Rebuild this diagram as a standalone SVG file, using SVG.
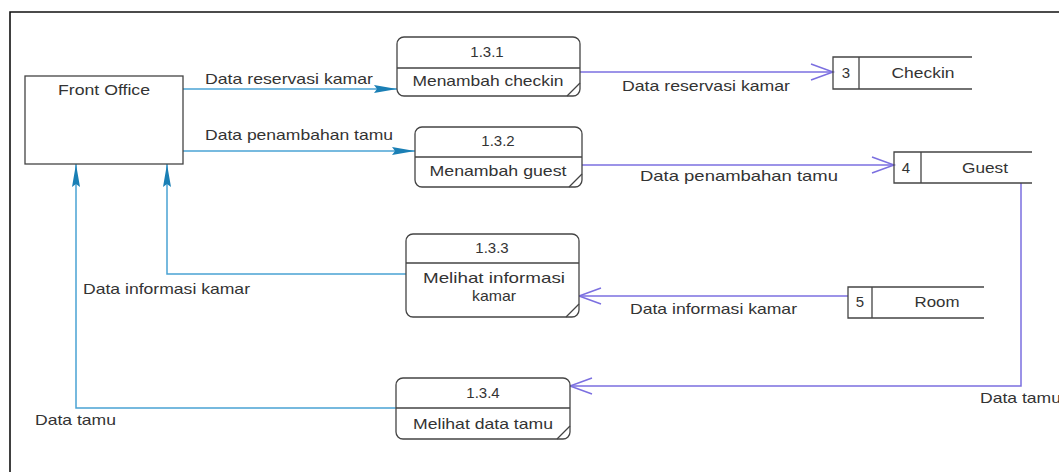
<svg xmlns="http://www.w3.org/2000/svg" width="1059" height="472" viewBox="0 0 1059 472">
<style>
text{font-family:"Liberation Sans",Arial,sans-serif;font-size:15px;fill:#333}
.c{text-anchor:middle}
.box{fill:#fff;stroke:#444;stroke-width:1.3}
.ln{fill:none;stroke:#444;stroke-width:1.3}
.tl{fill:none;stroke:#4aa3d4;stroke-width:1.5}
.pl{fill:none;stroke:#7b6fe0;stroke-width:1.5}
</style>
<defs>
<marker id="fa" markerUnits="userSpaceOnUse" markerWidth="26" markerHeight="14" refX="23" refY="6" orient="auto">
<path d="M0,2 L23,6 L0,10 L3,6 Z" fill="#1a7fb5"/>
</marker>
<marker id="oa" markerUnits="userSpaceOnUse" markerWidth="26" markerHeight="20" refX="23" refY="9" orient="auto">
<path d="M1,1 L23,9 L1,17" fill="none" stroke="#7b6fe0" stroke-width="1.5"/>
</marker>
</defs>
<rect width="1059" height="472" fill="#fff"/>
<path d="M10,472 V12 H1059" fill="none" stroke="#111" stroke-width="1.6"/>

<g id="connectors">
<path class="tl" d="M183,89 H397" marker-end="url(#fa)"/>
<path class="tl" d="M183,151 H415" marker-end="url(#fa)"/>
<path class="tl" d="M406,274 H167 V164" marker-end="url(#fa)"/>
<path class="tl" d="M396,408 H76 V164" marker-end="url(#fa)"/>
<path class="pl" d="M580,72 H833" marker-end="url(#oa)"/>
<path class="pl" d="M582,165 H894" marker-end="url(#oa)"/>
<path class="pl" d="M848,296 H579" marker-end="url(#oa)"/>
<path class="pl" d="M1021,183 V386 H570" marker-end="url(#oa)"/>
<text x="205" y="84" textLength="168" lengthAdjust="spacingAndGlyphs">Data reservasi kamar</text>
<text x="205" y="140" textLength="188" lengthAdjust="spacingAndGlyphs">Data penambahan tamu</text>
<text x="622" y="91" textLength="168" lengthAdjust="spacingAndGlyphs">Data reservasi kamar</text>
<text x="640" y="181" textLength="198" lengthAdjust="spacingAndGlyphs">Data penambahan tamu</text>
<text x="83" y="294" textLength="167" lengthAdjust="spacingAndGlyphs">Data informasi kamar</text>
<text x="630" y="314" textLength="167" lengthAdjust="spacingAndGlyphs">Data informasi kamar</text>
<text x="35" y="425" textLength="81" lengthAdjust="spacingAndGlyphs">Data tamu</text>
<text x="980" y="403" textLength="81" lengthAdjust="spacingAndGlyphs">Data tamu</text>
</g>

<g id="front-office">
<rect class="box" x="25" y="76" width="158" height="88"/>
<text class="c" x="104" y="95" textLength="92" lengthAdjust="spacingAndGlyphs">Front Office</text>
</g>

<g id="p131">
<rect class="box" x="397" y="37" width="183" height="59" rx="7"/>
<path class="ln" d="M397,68 H580 M567,96 L580,83"/>
<text class="c" x="487" y="57">1.3.1</text>
<text class="c" x="488" y="86" textLength="151" lengthAdjust="spacingAndGlyphs">Menambah checkin</text>
</g>

<g id="p132">
<rect class="box" x="415" y="127" width="167" height="60" rx="7"/>
<path class="ln" d="M415,157 H582 M569,187 L582,174"/>
<text class="c" x="498" y="146">1.3.2</text>
<text class="c" x="498" y="176" textLength="137" lengthAdjust="spacingAndGlyphs">Menambah guest</text>
</g>

<g id="p133">
<rect class="box" x="406" y="234" width="173" height="83" rx="7"/>
<path class="ln" d="M406,263 H579 M566,317 L579,304"/>
<text class="c" x="492" y="253">1.3.3</text>
<text class="c" x="494" y="283" textLength="142" lengthAdjust="spacingAndGlyphs">Melihat informasi</text>
<text class="c" x="494" y="301" textLength="44" lengthAdjust="spacingAndGlyphs">kamar</text>
</g>

<g id="p134">
<rect class="box" x="396" y="378" width="174" height="61" rx="7"/>
<path class="ln" d="M396,408 H570 M557,439 L570,426"/>
<text class="c" x="483" y="398">1.3.4</text>
<text class="c" x="483" y="429" textLength="140" lengthAdjust="spacingAndGlyphs">Melihat data tamu</text>
</g>

<g id="store3">
<path class="ln" d="M972,57 H833 V89 H972 M859,57 V89"/>
<text class="c" x="846" y="78">3</text>
<text class="c" x="923" y="78" textLength="63" lengthAdjust="spacingAndGlyphs">Checkin</text>
</g>

<g id="store4">
<path class="ln" d="M1032,152 H894 V183 H1032 M921,152 V183"/>
<text class="c" x="906" y="173">4</text>
<text class="c" x="985" y="173" textLength="46" lengthAdjust="spacingAndGlyphs">Guest</text>
</g>

<g id="store5">
<path class="ln" d="M984,287 H848 V318 H984 M872,287 V318"/>
<text class="c" x="860" y="307">5</text>
<text class="c" x="937" y="307" textLength="45" lengthAdjust="spacingAndGlyphs">Room</text>
</g>
</svg>
